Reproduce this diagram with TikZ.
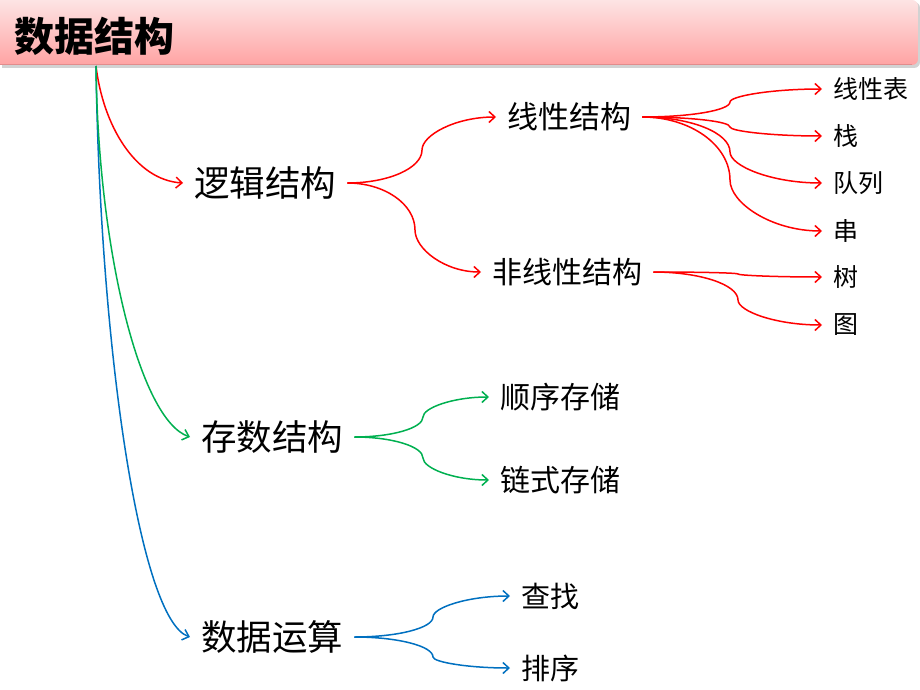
\documentclass[tikz,border=0pt]{standalone}
\usepackage{fontspec}
\setmainfont{Noto Sans CJK SC}
\usetikzlibrary{arrows.meta,calc}
\definecolor{cred}{RGB}{255,0,0}
\definecolor{cgreen}{RGB}{0,176,80}
\definecolor{cblue}{RGB}{0,112,192}
\definecolor{htop}{RGB}{253,228,228}
\definecolor{hbot}{RGB}{255,163,163}
\definecolor{hline}{RGB}{226,140,140}
\tikzset{
  tnode/.style={inner xsep=11pt, inner ysep=0pt, anchor=west, text=black},
  big/.style={tnode, font={\fontsize{35.5pt}{40pt}\selectfont}},
  mid/.style={tnode, font={\fontsize{30pt}{36pt}\selectfont}},
  leaf/.style={tnode, font={\fontsize{25pt}{30pt}\selectfont}},
  conn/.style={line width=1.5pt, -{Straight Barb[length=6pt,width=11pt]}},
  hv/.style={to path={let \p1=(\tikztostart), \p2=(\tikztotarget) in
     .. controls (\x1+0.55*\x2-0.55*\x1, \y1) and (\x2, \y1+0.45*\y2-0.45*\y1) .. (\tikztotarget)}},
  vh/.style={to path={let \p1=(\tikztostart), \p2=(\tikztotarget) in
     .. controls (\x1, \y1+0.45*\y2-0.45*\y1) and (\x1+0.45*\x2-0.45*\x1, \y2) .. (\tikztotarget)}},
}
\begin{document}
\begin{tikzpicture}[x=1pt,y=-1pt]
\useasboundingbox (0,0) rectangle (920,690);
% header
\fill[gray!35] (2,2) [rounded corners=6pt]-- (920,2) -- (920,68) [sharp corners]-- (2,68) -- cycle;
\shade[top color=htop, bottom color=hbot] (0,0) [rounded corners=6pt]-- (918,0) -- (918,65) [sharp corners]-- (0,65) -- cycle;
\draw[hline, line width=1pt] (0,65) -- (912,65);
\node[anchor=west, inner sep=0pt, font={\fontsize{40pt}{44pt}\selectfont\bfseries}] (title) at (14,36) {数据结构};

\coordinate (root) at (96,66);
% level 1
\node[big] (L1) at (183,183) {逻辑结构};
\node[big] (L2) at (190,437) {存数结构};
\node[big] (L3) at (190,637) {数据运算};
% level 2
\node[mid, font={\fontsize{31pt}{36pt}\selectfont}] (A) at (496,117) {线性结构};
\node[mid] (B) at (481,272) {非线性结构};
\node[mid] (C) at (489,397) {顺序存储};
\node[mid] (D) at (489,480) {链式存储};
\node[mid, font={\fontsize{29pt}{34pt}\selectfont}] (E) at (510,596) {查找};
\node[mid, font={\fontsize{29pt}{34pt}\selectfont}] (F) at (510,668) {排序};
% leaves
\node[leaf] (a1) at (822,89) {线性表};
\node[leaf] (a2) at (822,136) {栈};
\node[leaf] (a3) at (822,183) {队列};
\node[leaf] (a4) at (822,231) {串};
\node[leaf] (b1) at (822,277) {树};
\node[leaf] (b2) at (822,325) {图};

% root curves
\draw[conn, cred] (root) .. controls (103,125) and (135,180) .. (L1.west);
\draw[conn, cblue] (root) .. controls (100,350) and (140,620) .. (L3.west);
\draw[conn, cgreen] (root) .. controls (98,250) and (140,420) .. (L2.west);

% midpoints
\coordinate (mA) at (422,150);
\coordinate (mB) at (415,230);
\coordinate (mC) at (423,417);
\coordinate (mD) at (423,458);
\coordinate (mE) at (433,617);
\coordinate (mF) at (433,657);
\coordinate (m1) at (730,102);
\coordinate (m2) at (730,127);
\coordinate (m3) at (730,152);
\coordinate (m4) at (730,180);
\coordinate (n1) at (738,274);
\coordinate (n2) at (738,300);

\draw[conn, cred] (L1.east) to[hv] (mA) to[vh] (A.west);
\draw[conn, cred] (L1.east) to[hv] (mB) to[vh] (B.west);
\draw[conn, cgreen] (L2.east) to[hv] (mC) to[vh] (C.west);
\draw[conn, cgreen] (L2.east) to[hv] (mD) to[vh] (D.west);
\draw[conn, cblue] (L3.east) to[hv] (mE) to[vh] (E.west);
\draw[conn, cblue] (L3.east) to[hv] (mF) to[vh] (F.west);

\draw[conn, cred] (A.east) to[hv] (m1) to[vh] (a1.west);
\draw[conn, cred] (A.east) to[hv] (m2) to[vh] (a2.west);
\draw[conn, cred] (A.east) to[hv] (m3) to[vh] (a3.west);
\draw[conn, cred] (A.east) to[hv] (m4) to[vh] (a4.west);
\draw[conn, cred] (B.east) to[hv] (n1) to[vh] (b1.west);
\draw[conn, cred] (B.east) to[hv] (n2) to[vh] (b2.west);
\end{tikzpicture}
\end{document}
